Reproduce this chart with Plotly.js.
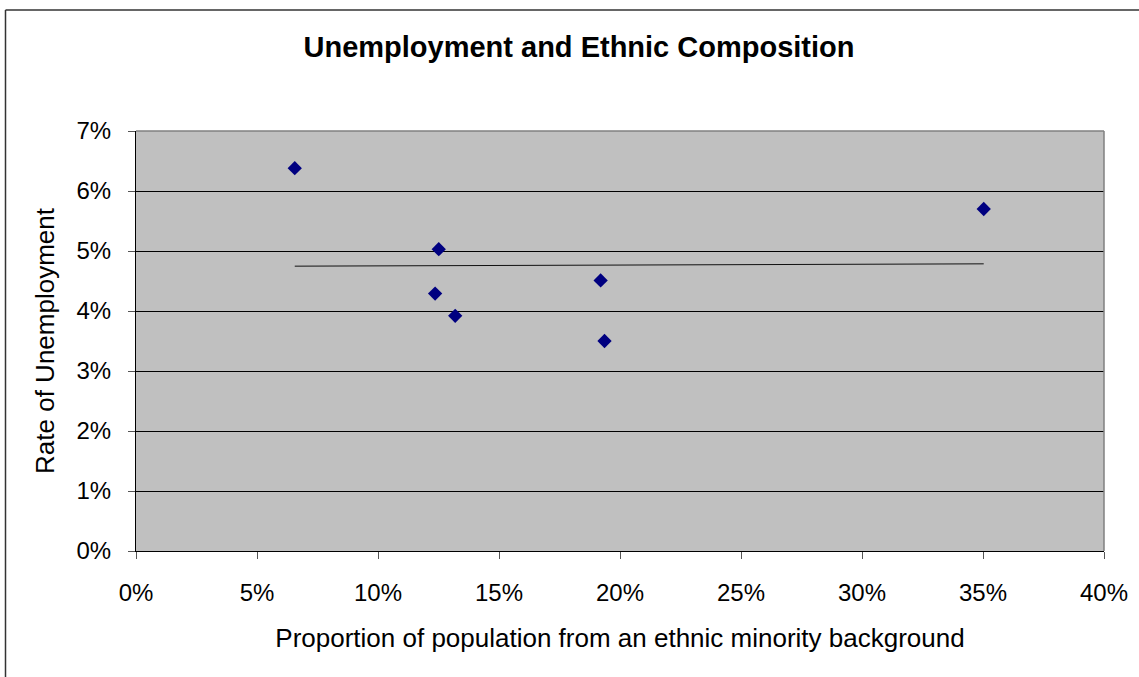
<!DOCTYPE html>
<html>
<head>
<meta charset="utf-8">
<script src="https://cdn.plot.ly/plotly-3.0.1.min.js"></script>
<style>
html,body{margin:0;padding:0;background:#fff;}
#chart{width:1139px;height:677px;}
</style>
</head>
<body>
<div id="chart"></div>
<script>
// Data (proportions as fractions)
const ethnicShare = [0.0656, 0.1251, 0.1236, 0.1319, 0.1920, 0.1936, 0.3503];
const unemployment = [0.0638, 0.0503, 0.0429, 0.0392, 0.0451, 0.0350, 0.0570];
const xTickVals = [0, 0.05, 0.10, 0.15, 0.20, 0.25, 0.30, 0.35, 0.40];
const yTickVals = [0, 0.01, 0.02, 0.03, 0.04, 0.05, 0.06, 0.07];

// Linear trendline (least squares) derived from the data
const n = ethnicShare.length;
const mx = ethnicShare.reduce((a,b)=>a+b,0)/n;
const my = unemployment.reduce((a,b)=>a+b,0)/n;
let sxy=0, sxx=0;
for(let i=0;i<n;i++){sxy+=(ethnicShare[i]-mx)*(unemployment[i]-my);sxx+=(ethnicShare[i]-mx)**2;}
const slope = sxy/sxx, icpt = my - slope*mx;
const xmin = Math.min(...ethnicShare), xmax = Math.max(...ethnicShare);
const trendX = [xmin, xmax];
const trendY = trendX.map(x=>icpt+slope*x);

const font = 'Liberation Sans, Arial, sans-serif';

const traces = [
  {x: trendX, y: trendY, mode:'lines', type:'scatter',
   line:{color:'#111', width:1}, hoverinfo:'skip', showlegend:false},
  {x: ethnicShare, y: unemployment, mode:'markers', type:'scatter',
   marker:{symbol:'diamond', size:11, color:'#000080', line:{width:0}},
   showlegend:false}
];

const layout = {
  width:1139, height:677,
  margin:{l:136, r:35, t:131, b:126},
  paper_bgcolor:'#fff', plot_bgcolor:'#c0c0c0',
  font:{family:font, color:'#000', size:24},
  title:{text:'<b>Unemployment and Ethnic Composition</b>', x:579/1139, xanchor:'center',
         y:1-47/677, yanchor:'middle', font:{family:font, size:29, color:'#000'}},
  xaxis:{range:[0,0.40], tickvals:xTickVals, tickformat:'.0%',
         showgrid:false, zeroline:false, showline:true, linecolor:'#000', linewidth:1,
         ticks:'outside', ticklen:7, tickcolor:'#555', ticklabelstandoff:13,
         tickfont:{size:24, family:font},
         title:{text:'Proportion of population from an ethnic minority background',
                font:{size:26, family:font}, standoff:24}, fixedrange:true},
  yaxis:{range:[0,0.07], tickvals:yTickVals, tickformat:'.0%',
         showgrid:true, gridcolor:'#000', gridwidth:1, zeroline:false,
         showline:true, linecolor:'#000', linewidth:1,
         ticks:'outside', ticklen:7, tickcolor:'#555', ticklabelstandoff:12,
         tickfont:{size:24, family:font},
         title:{text:'Rate of Unemployment', font:{size:26, family:font}, standoff:14},
         fixedrange:true},
  shapes:[
    {type:'line', xref:'paper', yref:'paper', x0:0, x1:1, y0:1, y1:1,
     line:{color:'#808080', width:1.5}},
    {type:'line', xref:'paper', yref:'paper', x0:1, x1:1, y0:0, y1:1,
     line:{color:'#808080', width:1.5}},
    {type:'line', xref:'paper', yref:'paper', x0:(5.5-136)/968, x1:(5.5-136)/968, y0:-1, y1:(551-10)/420,
     line:{color:'#333', width:1.5}},
    {type:'line', xref:'paper', yref:'paper', x0:(5.5-136)/968, x1:1.2, y0:(551-10)/420, y1:(551-10)/420,
     line:{color:'#333', width:1.5}}
  ]
};

Plotly.newPlot('chart', traces, layout, {displayModeBar:false, staticPlot:true});
</script>
</body>
</html>
